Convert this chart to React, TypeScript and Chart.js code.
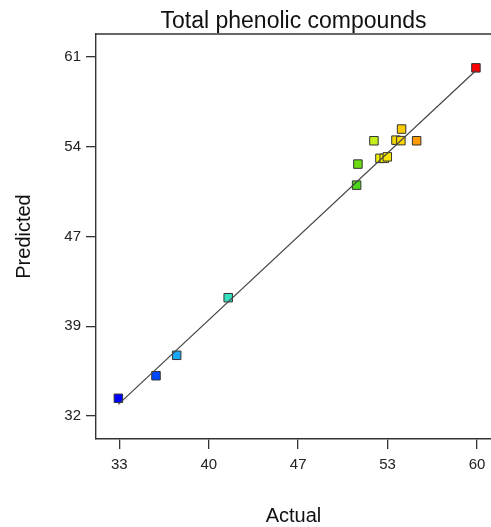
import React, { useEffect, useRef } from "react";
import { Chart, registerables } from "chart.js";

Chart.register(...registerables);

// Data (Actual vs Predicted)
const actual = [33.13, 35.95, 37.5, 41.36, 50.98, 51.08, 52.28, 52.73, 53.05, 53.28, 53.93, 54.3, 54.35, 55.48, 59.92];
const predicted = [33.62, 35.43, 37.07, 41.69, 50.72, 52.41, 54.28, 52.87, 52.87, 52.99, 54.33, 54.29, 55.22, 54.28, 60.13];
const pointColors = [
  "#0000ff", "#0048ff", "#1aa6f5", "#34e0c0", "#4cd81a", "#6cdc12", "#c4ef1c",
  "#f2f000", "#f6ec00", "#f8e400", "#f0d400", "#ffd600", "#ffcc00", "#ff9a00", "#ff0000",
];
const lineEnds = [33.13, 59.92];

const xTickValues = [33.2, 39.9, 46.6, 53.3, 60.0];
const xTickLabels = ["33", "40", "47", "53", "60"];
const yTickValues = [32.2, 39.4, 46.6, 53.8, 61.0];
const yTickLabels = ["32", "39", "47", "54", "61"];

const titleText = "Total phenolic compounds";
const xTitle = "Actual";
const yTitle = "Predicted";

const FONT = "'Liberation Sans', Arial, Helvetica, sans-serif";

export default function App() {
  const ref = useRef<HTMLCanvasElement | null>(null);

  useEffect(() => {
    document.body.style.margin = "0";
    document.body.style.overflow = "hidden";
    const canvas = ref.current;
    if (!canvas) return;

    const framePlugin = {
      id: "frameTop",
      afterDraw(chart: any) {
        const { ctx, chartArea } = chart;
        ctx.save();
        ctx.strokeStyle = "#333";
        ctx.lineWidth = 1.4;
        ctx.beginPath();
        ctx.moveTo(chartArea.left, chartArea.top);
        ctx.lineTo(chartArea.right, chartArea.top);
        ctx.stroke();
        ctx.restore();
      },
    };

    const chart = new Chart(canvas, {
      type: "scatter",
      data: {
        datasets: [
          {
            type: "line",
            data: lineEnds.map((v) => ({ x: v, y: v })),
            borderColor: "#444",
            borderWidth: 1.2,
            pointRadius: 0,
            showLine: true,
            fill: false,
            order: 0,
          } as any,
          {
            data: actual.map((a, i) => ({ x: a, y: predicted[i] })),
            backgroundColor: pointColors,
            borderColor: "#333",
            borderWidth: 1,
            pointStyle: "rect",
            pointRadius: 6,
            order: 1,
          },
        ],
      },
      options: {
        responsive: false,
        animation: false,
        layout: { padding: 0, autoPadding: false },
        plugins: {
          legend: { display: false },
          tooltip: { enabled: false },
          title: {
            display: true,
            text: titleText,
            fullSize: false,
            color: "#111",
            font: { family: FONT, size: 23, weight: "normal", lineHeight: 1 },
            padding: { top: 10, bottom: 1 },
          },
        },
        scales: {
          x: {
            type: "linear",
            min: 31.454,
            max: 61.05,
            afterBuildTicks: (scale: any) => {
              scale.ticks = xTickValues.map((v) => ({ value: v }));
            },
            afterFit: (scale: any) => {
              scale.height = 88;
              scale.paddingLeft = 0;
              scale.paddingRight = 0;
            },
            ticks: {
              callback: (_v: any, i: number) => xTickLabels[i],
              color: "#222",
              font: { family: FONT, size: 15 },
              padding: 7,
              maxRotation: 0,
              autoSkip: false,
            },
            grid: {
              display: true,
              drawOnChartArea: false,
              drawTicks: true,
              tickLength: 10,
              color: "#333",
              lineWidth: 1.3,
            },
            border: { display: true, color: "#333", width: 1.4 },
            title: {
              display: true,
              text: xTitle,
              color: "#111",
              font: { family: FONT, size: 20, lineHeight: 1 },
              padding: { top: 0, bottom: 1 },
            },
          },
          y: {
            type: "linear",
            min: 30.355,
            max: 62.845,
            afterBuildTicks: (scale: any) => {
              scale.ticks = yTickValues.map((v) => ({ value: v }));
            },
            afterFit: (scale: any) => {
              scale.width = 96;
              scale.paddingTop = 0;
              scale.paddingBottom = 0;
            },
            ticks: {
              callback: (_v: any, i: number) => yTickLabels[i],
              color: "#222",
              font: { family: FONT, size: 15 },
              padding: 5,
              autoSkip: false,
            },
            grid: {
              display: true,
              drawOnChartArea: false,
              drawTicks: true,
              tickLength: 10,
              color: "#333",
              lineWidth: 1.3,
            },
            border: { display: true, color: "#333", width: 1.4 },
            title: {
              display: true,
              text: yTitle,
              color: "#111",
              font: { family: FONT, size: 20, lineHeight: 1 },
              padding: { top: 14, bottom: 0 },
            },
          },
        },
      },
      plugins: [framePlugin],
    });

    return () => chart.destroy();
  }, []);

  return <canvas ref={ref} width={491} height={527} style={{ display: "block" }} />;
}
